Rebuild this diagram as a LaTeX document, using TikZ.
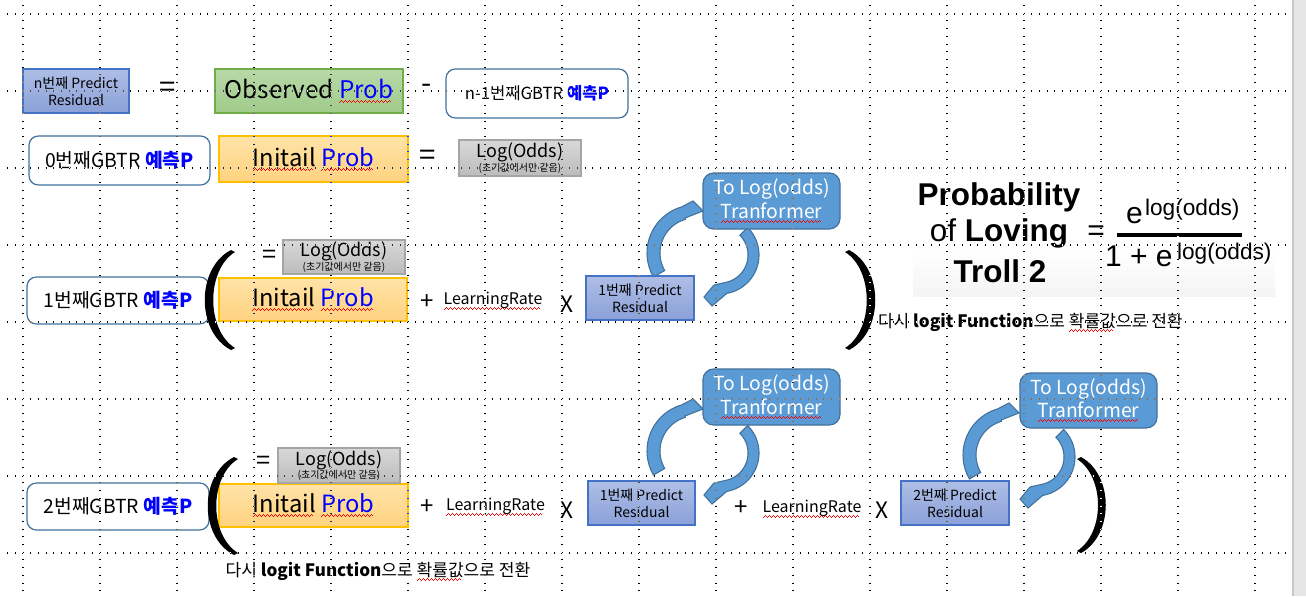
\documentclass[tikz,border=0pt]{standalone}
\usepackage{fontspec}
\setmainfont{Noto Sans CJK KR}
\newfontfamily\helv{Liberation Sans}
\usetikzlibrary{calc}
\newsavebox\sqbox
\newcommand\sqpat{\rule[0pt]{.75pt}{.75pt}\rule[.75pt]{.75pt}{.75pt}\rule[1.5pt]{.75pt}{.75pt}\rule[.75pt]{.75pt}{.75pt}}
\newcommand\sq[1]{\sbox\sqbox{#1}\leavevmode\rlap{\raisebox{-3.5pt}{\color{red}\hbox to \wd\sqbox{\leaders\hbox{\sqpat}\hfill}}}\usebox\sqbox}
\definecolor{resT}{HTML}{AEBEE6}
\definecolor{resB}{HTML}{8AA0D8}
\definecolor{resD}{HTML}{4472C4}
\definecolor{obsT}{HTML}{B8D9A8}
\definecolor{obsB}{HTML}{A0CB8A}
\definecolor{obsD}{HTML}{70AD47}
\definecolor{iniT}{HTML}{FFE3A8}
\definecolor{iniB}{HTML}{FFD27F}
\definecolor{iniD}{HTML}{FFC000}
\definecolor{logT}{HTML}{D8D8D8}
\definecolor{logB}{HTML}{BCBCBC}
\definecolor{logD}{HTML}{A5A5A5}
\definecolor{tfF}{HTML}{5B9BD5}
\definecolor{tfD}{HTML}{41719C}
\definecolor{gbD}{HTML}{41719C}
\definecolor{stripC}{HTML}{E6E6E6}
\definecolor{stripD}{HTML}{C8C8C8}
\definecolor{fgrey}{HTML}{EAEAEA}
\newcommand\logodds{{\fontsize{13.5}{14}\selectfont Log(Odds)}\\[-2pt]{\fontsize{7.5}{8}\selectfont (초기값에서만 같음)}}
\newcommand\pred{\textcolor{blue}{\bfseries 예측P}}
\newcommand\ringpair{%
 \draw[ring] plot[domain=150:254,samples=30] ({695+48*cos(\x)},{253+48*sin(\x)}) -- (693,201) -- (703,211) -- (685,218) -- plot[domain=254:150,samples=30] ({695+35*cos(\x)},{253+35*sin(\x)}) -- cycle;
 \draw[ring] plot[domain=-45:80,samples=30] ({720+39*cos(\x)},{255+39*sin(\x)}) -- (712,306) -- (704,297) -- (714,285) -- plot[domain=80:-45,samples=30] ({720+28*cos(\x)},{255+28*sin(\x)}) -- cycle;}
\begin{document}
\begin{tikzpicture}[x=0.75pt,y=-0.75pt,
  every node/.style={inner sep=0pt, outer sep=0pt},
  wh/.style 2 args={minimum width=#1*0.75pt, minimum height=#2*0.75pt},
  resbox/.style={draw=resD, line width=0.9pt, top color=resT, bottom color=resB, align=center, font=\fontsize{10.5}{12.6}\selectfont},
  obsbox/.style={draw=obsD, line width=0.9pt, top color=obsT, bottom color=obsB, font=\fontsize{18.2}{22}\selectfont},
  inibox/.style={draw=iniD, line width=0.9pt, top color=iniT, bottom color=iniB, font=\fontsize{17.8}{22}\selectfont},
  gbbox/.style={draw=gbD, line width=0.9pt, fill=white, rounded corners=7pt, font=\fontsize{14.5}{16}\selectfont},
  logbox/.style={draw=logD, line width=0.8pt, top color=logT, bottom color=logB, align=center},
  tfbox/.style={draw=tfD, line width=0.9pt, fill=tfF, rounded corners=8pt, text=white, align=center, font=\fontsize{14.5}{17.5}\selectfont},
  sym/.style={font=\fontsize{22}{22}\selectfont},
  opsym/.style={font=\fontsize{18}{18}\selectfont},
  xsym/.style={font=\fontsize{17}{17}\selectfont},
  lrtext/.style={font=\fontsize{12}{14}\selectfont},
  notetext/.style={font=\fontsize{12.8}{15}\selectfont},
  fbig/.style={font=\helv\bfseries\fontsize{23.6}{26}\selectfont},
  fmid/.style={font=\helv\fontsize{22.5}{25}\selectfont},
  fsup/.style={font=\helv\fontsize{17}{19}\selectfont},
  ring/.style={draw=tfD, line width=0.8pt, fill=tfF},
  griddot/.style={white, line width=0.8pt, dash pattern=on 0.8pt off 4.975pt},
  parfill/.style={fill=black}
]
\useasboundingbox (0,0) rectangle (1306,596);
\fill[white] (0,0) rectangle (1306,596);

% curved arrows
\ringpair
\begin{scope}[shift={(0,198)}]\ringpair\end{scope}
\begin{scope}[shift={(316,202)}]\ringpair\end{scope}

% row 1
\node[resbox, wh={106}{44}] (r0) at (76,91) {n번째 Predict\\Residual};
\node[sym] (eq1) at (168,90) {=};
\node[obsbox, wh={188}{44}] (obs) at (309,91) {Observed \textcolor{blue}{\sq{Prob}}};
\node[sym] (mi1) at (427,89) {-};
\node[gbbox, wh={182}{49}, font=\fontsize{12.5}{14}\selectfont] (gbN) at (537,93.5) {n-1번째GBTR \pred};

% row 2
\node[gbbox, wh={181}{49}] (gb0) at (119.5,160.5) {0번째GBTR \pred};
\node[inibox, wh={189}{46}] (in0) at (313.5,159) {\sq{Initail} \textcolor{blue}{\sq{Prob}}};
\node[sym] (eq2) at (428,158) {=};
\node[logbox, wh={122}{36}] (lo0) at (520,158) {\logodds};

% row 3
\node[sym, font=\fontsize{19}{19}\selectfont] (eq3) at (270,256.5) {=};
\node[logbox, wh={122}{34}] (lo1) at (344,257) {\logodds};
\node[gbbox, wh={182}{47}] (gb1) at (118,300.5) {1번째GBTR \pred};
\node[inibox, wh={188}{43}] (in1) at (313,299.5) {\sq{Initail} \textcolor{blue}{\sq{Prob}}};
\node[opsym] (pl1) at (427,302) {+};
\node[lrtext] (lr1) at (493,301) {\sq{LearningRate}};
\node[xsym] (x1) at (567,304) {X};
\node[resbox, wh={108}{44}] (rs1) at (640,298) {1번째 Predict\\Residual};
\node[tfbox, wh={137}{56}] (tf1) at (771.5,201) {To Log(odds)\\\sq{Tranformer}};
\fill[parfill] (231,250) .. controls (196,268) and (196,332) .. (231,350) -- (235,348) .. controls (206,330) and (206,270) .. (235,252) -- cycle;
\fill[parfill] (849,250) .. controls (884,268) and (884,332) .. (849,350) -- (845,348) .. controls (874,330) and (874,270) .. (845,252) -- cycle;

% formula
\shade[top color=white, middle color=fgrey, bottom color=white!50!fgrey] (913,250) rectangle (1275,296);
\node[fbig, anchor=base] (pb) at (999,205) {Probability};
\node[fbig, anchor=base] (pv) at (999,241.7) {{\mdseries of} Loving};
\node[fbig, anchor=base] (pt) at (1000,282.7) {Troll 2};
\node[fmid] (peq) at (1096,233) {=};
\coordinate (barL) at (1117,235);
\coordinate (barR) at (1242,235);
\draw[line width=3.4pt] (barL) -- (barR);
\node[fmid, anchor=base west] (ne) at (1126,223) {e};
\node[fsup, anchor=base west] (ns) at (1145,215) {log(odds)};
\node[fmid, anchor=base west] (de) at (1105,266.7) {1 + e};
\node[fsup, anchor=base west] (ds) at (1177,259) {log(odds)};
\node[notetext, anchor=west] (nt1) at (878,323) {다시 \textbf{logit Function}으로 \sq{확률값}으로 전환};

% row 4
\node[tfbox, wh={137}{56}] (tf2) at (771.5,397) {To Log(odds)\\\sq{Tranformer}};
\node[tfbox, wh={137}{55}] (tf3) at (1088.5,400.5) {To Log(odds)\\\sq{Tranformer}};
\node[sym, font=\fontsize{19}{19}\selectfont] (eq4) at (264,463) {=};
\node[gbbox, wh={182}{47}] (gb2) at (118,506.5) {2번째GBTR \pred};
\node[inibox, wh={189}{43}] (in2) at (313.5,505.5) {\sq{Initail} \textcolor{blue}{\sq{Prob}}};
\node[logbox, wh={122}{35}] (lo2) at (339,465.5) {\logodds};
\node[opsym] (pl2) at (427,507) {+};
\node[lrtext] (lr2) at (495.5,507) {\sq{LearningRate}};
\node[xsym] (x2) at (567,510) {X};
\node[resbox, wh={107}{44}] (rs2) at (641.5,503) {1번째 Predict\\Residual};
\node[opsym] (pl3) at (741,508) {+};
\node[lrtext] (lr3) at (812,509) {\sq{LearningRate}};
\node[xsym] (x3) at (882,510) {X};
\node[resbox, wh={108}{44}] (rs3) at (955,503) {2번째 Predict\\Residual};
\fill[parfill] (234,457) .. controls (199,475) and (199,537) .. (234,555) -- (238,553) .. controls (209,535) and (209,477) .. (238,459) -- cycle;
\fill[parfill] (1081,457) .. controls (1114,475) and (1114,535) .. (1081,553) -- (1077,551) .. controls (1105,533) and (1105,477) .. (1077,459) -- cycle;
\node[notetext] (nt2) at (378,572) {다시 \textbf{logit Function}으로 \sq{확률값}으로 전환};

% grid
\begin{scope}[blend mode=difference]
\foreach \k in {0,...,7} \draw[griddot] (7,14+77*\k) -- (1290,14+77*\k);
\foreach \k in {0,...,16} \draw[griddot] (23+77*\k,5) -- (23+77*\k,596);
\end{scope}

% right strip
\fill[stripC] (1293,0) rectangle (1306,596);
\draw[stripD, line width=0.8pt] (1293,0) -- (1293,596);
\end{tikzpicture}
\end{document}
